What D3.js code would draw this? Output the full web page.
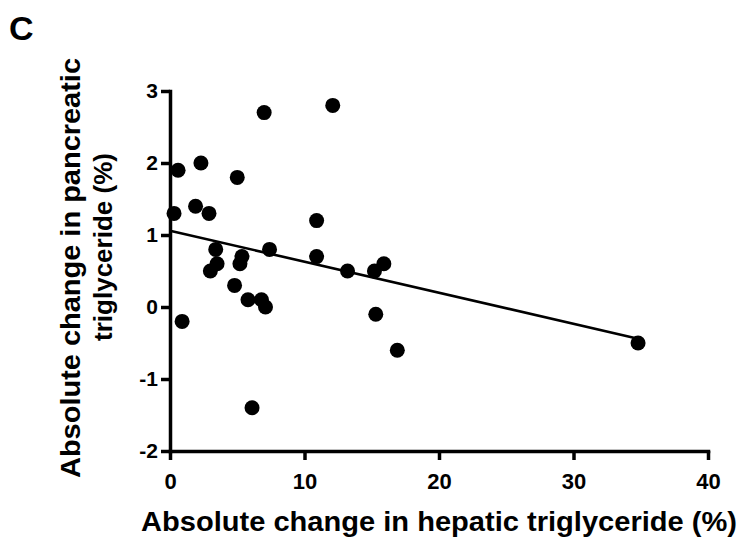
<!DOCTYPE html>
<html>
<head>
<meta charset="utf-8">
<script src="https://cdn.jsdelivr.net/npm/d3@7"></script>
<style>
	body { margin: 0; background: #fff; }
	text { font-family: "Liberation Sans", Arial, sans-serif; font-weight: bold; fill: #000; }
	.axis path, .axis line { stroke: #000; stroke-width: 3.5; }
	.fit { stroke: #000; stroke-width: 2.6; fill: none; }
</style>
</head>
<body>
<div class="container"></div>
<script>
const WIDTH = 737
	, HEIGHT = 538
	, X0 = 170
	, X1 = 708
	, Y_TOP = 91
	, Y_BOTTOM = 451;

// hepatic TG change (x) vs pancreatic TG change (y)
var hepatic = [0.3, 0.6, 0.9, 1.9, 2.3, 2.9, 3.0, 3.5, 3.4, 4.8, 5.0, 5.2, 5.35, 5.8,
	6.1, 6.8, 7.0, 7.1, 7.4, 10.9, 10.9, 12.1, 13.2, 15.2, 15.3, 15.9, 16.9, 34.8];
var pancreatic = [1.3, 1.9, -0.2, 1.4, 2.0, 1.3, 0.5, 0.6, 0.8, 0.3, 1.8, 0.6, 0.7, 0.1,
	-1.4, 0.1, 2.7, 0.0, 0.8, 1.2, 0.7, 2.8, 0.5, 0.5, -0.1, 0.6, -0.6, -0.5];

// regression line end points
var fitX = [0, 34.8];
var fitY = [1.06, -0.44];

var xTicks = [0, 10, 20, 30, 40];
var yTicks = [-2, -1, 0, 1, 2, 3];

var translate = function (x, y) {
	return "translate(" + x + "," + y + ")";
};

// plain hyphen for negatives, like the original
var plain = function (d) { return String(d); };

var svg = d3.select('.container').append('svg')
	.attr('width', WIDTH)
	.attr('height', HEIGHT);

var _xScale = d3.scaleLinear().domain([0, 40]).range([X0, X1]);
var _yScale = d3.scaleLinear().domain([-2, 3]).range([Y_BOTTOM, Y_TOP]);

var xAxis = svg.append('g')
	.classed('axis', true)
	.attr('transform', translate(0, Y_BOTTOM))
	.call(d3.axisBottom(_xScale).tickValues(xTicks).tickFormat(plain)
		.tickSize(9).tickSizeOuter(0).tickPadding(13));
xAxis.selectAll('text').style('font-size', '22px');

var yAxis = svg.append('g')
	.classed('axis', true)
	.attr('transform', translate(X0, 0))
	.call(d3.axisLeft(_yScale).tickValues(yTicks).tickFormat(plain)
		.tickSize(9).tickSizeOuter(0).tickPadding(3));
yAxis.selectAll('text').style('font-size', '21px');

svg.selectAll('.axis path').attr('stroke-linecap', 'square');

// fit line
svg.append('path')
	.classed('fit', true)
	.attr('d', d3.line()
		.x(function (d) { return _xScale(d); })
		.y(function (d, i) { return _yScale(fitY[i]); })(fitX));

svg.selectAll('circle.pt').data(hepatic)
	.enter().append('circle')
	.classed('pt', true)
	.attr('r', 7.5)
	.attr('cx', function (d) { return _xScale(d); })
	.attr('cy', function (d, i) { return _yScale(pancreatic[i]); })
	.attr('fill', '#000');

// titles
svg.append('text')
	.attr('x', 439)
	.attr('y', 531)
	.attr('text-anchor', 'middle')
	.attr('textLength', 596)
	.attr('lengthAdjust', 'spacingAndGlyphs')
	.style('font-size', '27px')
	.text('Absolute change in hepatic triglyceride (%)');

svg.append('text')
	.attr('transform', translate(80, 268) + ' rotate(-90)')
	.attr('text-anchor', 'middle')
	.attr('textLength', 420)
	.attr('lengthAdjust', 'spacingAndGlyphs')
	.style('font-size', '27px')
	.text('Absolute change in pancreatic');

svg.append('text')
	.attr('transform', translate(112, 247) + ' rotate(-90)')
	.attr('text-anchor', 'middle')
	.style('font-size', '26px')
	.text('triglyceride (%)');

svg.append('text')
	.attr('x', 9)
	.attr('y', 40)
	.style('font-size', '34px')
	.text('C');
</script>
</body>
</html>
